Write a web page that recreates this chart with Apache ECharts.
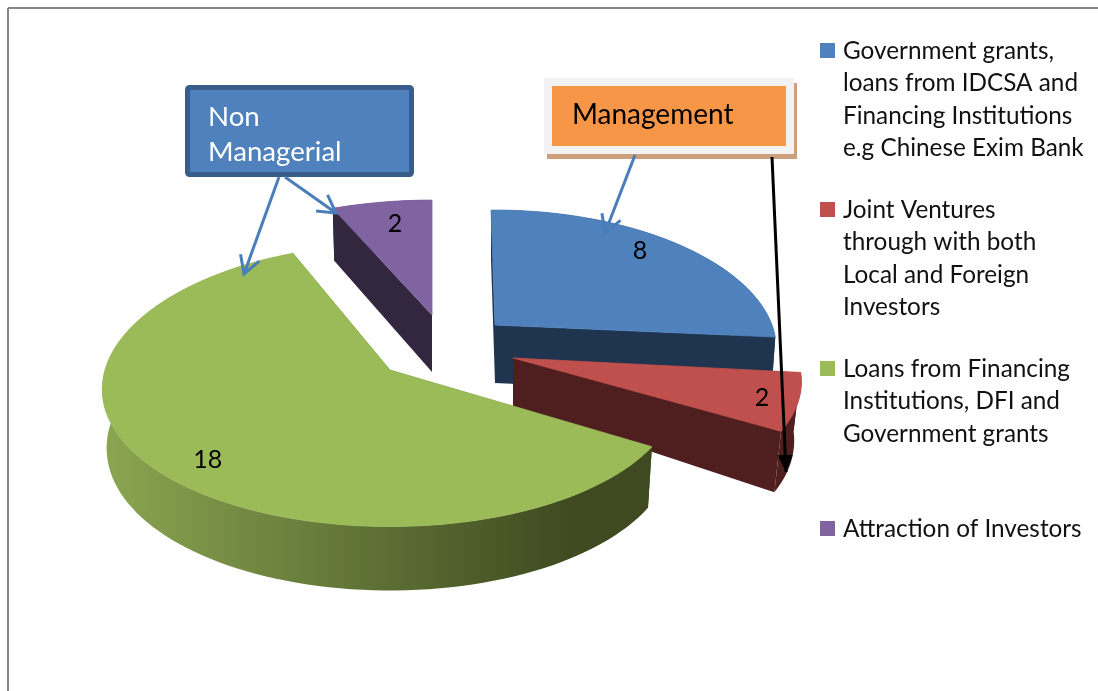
<!DOCTYPE html>
<html>
<head>
<meta charset="utf-8">
<title>Exploded pie</title>
<script src="https://cdn.jsdelivr.net/npm/echarts@6/dist/echarts.min.js"></script>
<style>
  html, body { margin: 0; padding: 0; background: #ffffff; }
  #chart { width: 1098px; height: 691px; }
</style>
</head>
<body>
<div id="chart"></div>
<script>
const categories = [
  'Government grants,\nloans from IDCSA and\nFinancing Institutions\ne.g Chinese Exim Bank',
  'Joint Ventures\nthrough with both\nLocal and Foreign\nInvestors',
  'Loans from Financing\nInstitutions, DFI and\nGovernment grants',
  'Attraction of Investors'
]
const values = [8, 2, 18, 2]

const FONT = 'Lato, "Open Sans", sans-serif'
const topColors = ['#4f81bd', '#c0504d', '#9bbb59', '#8064a2']
const wallColors = ['#1f344f', '#4e1f1e', '#3f4a20', '#33273f']

// fake 3D pie layout: each slice was exploded and skewed a bit differently in the source
const sliceLayouts = [
  { center: [495, 325], rx: 277, ry: 136, kx: 0.18, ky: 0.155, rot: -1, bottom: 0.985, depth: 58, label: [0.816, 0.89] },
  { center: [513, 358], rx: 284, ry: 136, kx: 0.18, ky: 0.155, rot: 0, bottom: 0.975, depth: 48, label: [0.873, 0.91] },
  { center: [390, 370], rx: 285, ry: 141, kx: 0.14, ky: 0.11, rot: 1, bottom: 0.985, depth: 58, label: [0.776, 0.91] },
  { center: [432, 315], rx: 292, ry: 136, kx: 0.18, ky: 0.155, rot: 0, bottom: 0.985, depth: 57, label: [0.74, 0.81] }
]
const drawOrder = [3, 0, 1, 2]
const legendCenters = [51, 210, 369, 529]

const total = values.reduce((a, b) => a + b, 0)

function sliceAngles(index, value) {
  let before = 0
  for (let i = 0; i < index; i++) before += values[i]
  const rot = sliceLayouts[index].rot
  return [rot + (before / total) * 360, rot + ((before + value) / total) * 360]
}

function project(layout, deg, fx = 1, fy = 1) {
  const t = (deg * Math.PI) / 180
  const s = Math.sin(t)
  const c = -Math.cos(t)
  return [
    layout.center[0] + fx * layout.rx * s * (1 + layout.kx * c),
    layout.center[1] + fy * layout.ry * c * (1 + layout.ky * c)
  ]
}

function rimDrop(layout, point, deg) {
  const c = -Math.cos((deg * Math.PI) / 180)
  return [layout.center[0] + (point[0] - layout.center[0]) * layout.bottom, point[1] + 58 + 6 * c]
}

function renderSlice(index) {
  return function (params, api) {
    const value = api.value(0)
    const layout = sliceLayouts[index]
    const center = layout.center
    const [a0, a1] = sliceAngles(index, value)
    const rim = []
    const rimBottom = []
    for (let d = a0; ; d += 2) {
      const deg = Math.min(d, a1)
      const p = project(layout, deg)
      rim.push(p)
      rimBottom.push(rimDrop(layout, p, deg))
      if (deg >= a1) break
    }
    const centerBottom = [center[0], center[1] + layout.depth]
    const wallFill = index === 2
      ? new echarts.graphic.LinearGradient(102, 0, 570, 0, [
          { offset: 0, color: '#8ba651' },
          { offset: 0.5, color: '#647839' },
          { offset: 1, color: '#3f4a20' }
        ], true)
      : wallColors[index]
    const mid = (a0 + a1) / 2
    const labelPos = project(layout, mid, layout.label[0], layout.label[1])
    return {
      type: 'group',
      children: [
        {
          type: 'polygon',
          shape: { points: [center, rim[0], rimBottom[0], centerBottom] },
          style: { fill: wallColors[index] }
        },
        {
          type: 'polygon',
          shape: { points: [center, rim[rim.length - 1], rimBottom[rimBottom.length - 1], centerBottom] },
          style: { fill: wallColors[index] }
        },
        {
          type: 'polygon',
          shape: { points: rim.concat(rimBottom.slice().reverse()) },
          style: { fill: wallFill }
        },
        {
          type: 'polygon',
          shape: { points: [center].concat(rim) },
          style: { fill: topColors[index], stroke: topColors[index], lineWidth: 0.8 }
        },
        {
          type: 'text',
          style: {
            text: String(value),
            x: labelPos[0],
            y: labelPos[1],
            align: 'center',
            verticalAlign: 'middle',
            font: '25px ' + FONT,
            fill: '#000000'
          }
        }
      ]
    }
  }
}

function arrow(from, to, color, width, filled) {
  const ang = Math.atan2(to[1] - from[1], to[0] - from[0])
  const len = filled ? 18.6 : 20
  const spread = filled ? 0.42 : 0.52
  const left = [to[0] - len * Math.cos(ang - spread), to[1] - len * Math.sin(ang - spread)]
  const right = [to[0] - len * Math.cos(ang + spread), to[1] - len * Math.sin(ang + spread)]
  const items = [{
    type: 'line',
    z: 20,
    shape: { x1: from[0], y1: from[1], x2: to[0], y2: to[1] },
    style: { stroke: color, lineWidth: width }
  }]
  if (filled) {
    items.push({
      type: 'polygon',
      z: 20,
      shape: { points: [left, to, right] },
      style: { fill: color }
    })
  } else {
    items.push({
      type: 'polyline',
      z: 20,
      shape: { points: [left, to, right] },
      style: { stroke: color, lineWidth: width, fill: 'none' }
    })
  }
  return items
}

const legendItems = []
categories.forEach((name, i) => {
  legendItems.push({
    type: 'rect',
    z: 10,
    shape: { x: 820, y: legendCenters[i] - 8, width: 15, height: 15 },
    style: { fill: topColors[i] }
  })
  legendItems.push({
    type: 'text',
    z: 10,
    style: {
      text: name,
      x: 843,
      y: legendCenters[i] - 16.25,
      font: '24.3px ' + FONT,
      lineHeight: 32.5,
      verticalAlign: 'top',
      fill: '#111111'
    }
  })
})

const frame = [
  { type: 'line', z: 1, shape: { x1: 8, y1: 8, x2: 1098, y2: 8 }, style: { stroke: '#868686', lineWidth: 2 } },
  { type: 'line', z: 1, shape: { x1: 8, y1: 8, x2: 8, y2: 691 }, style: { stroke: '#868686', lineWidth: 2 } }
]

const callouts = [
  { type: 'rect', z: 18, shape: { x: 187.5, y: 87.5, width: 224, height: 87, r: 2 }, style: { fill: '#4f81bd', stroke: '#385d8a', lineWidth: 5 } },
  {
    type: 'text',
    z: 19,
    style: { text: 'Non\nManagerial', x: 208, y: 100, font: '27.6px ' + FONT, lineHeight: 35, verticalAlign: 'top', fill: '#ffffff' }
  },
  { type: 'rect', z: 18, shape: { x: 547, y: 83, width: 250, height: 76 }, style: { fill: '#cd9f7c' } },
  { type: 'rect', z: 18, shape: { x: 544, y: 78, width: 250, height: 76 }, style: { fill: '#f2f2f2' } },
  { type: 'rect', z: 18, shape: { x: 552, y: 86, width: 234, height: 60 }, style: { fill: '#f79646' } },
  {
    type: 'text',
    z: 19,
    style: { text: 'Management', x: 572, y: 115, font: '28px ' + FONT, verticalAlign: 'middle', fill: '#000000' }
  }
]

const arrows = [].concat(
  arrow([279, 177], [244, 274], '#4a7ebb', 3, false),
  arrow([285, 177], [336, 213], '#4a7ebb', 3, false),
  arrow([635, 155], [605, 233], '#4a7ebb', 3, false),
  arrow([772, 157], [786, 472], '#000000', 3, true)
)

const chart = echarts.init(document.getElementById('chart'))
chart.setOption({
  animation: false,
  backgroundColor: '#ffffff',
  graphic: { elements: frame.concat(legendItems, callouts, arrows) },
  series: drawOrder.map((index, order) => ({
    type: 'custom',
    name: categories[index],
    coordinateSystem: 'none',
    z: 2 + order,
    silent: true,
    renderItem: renderSlice(index),
    data: [[values[index]]]
  }))
})
</script>
</body>
</html>
